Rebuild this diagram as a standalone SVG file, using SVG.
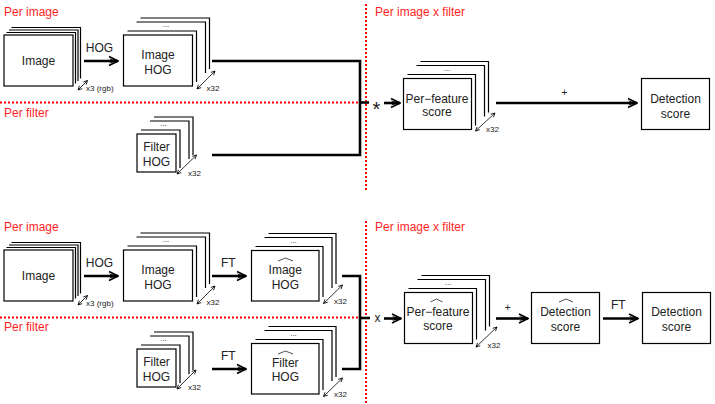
<svg xmlns="http://www.w3.org/2000/svg" width="715" height="404" viewBox="0 0 715 404">
  <defs>
    <style>
      .box { fill: #fff; stroke: #000; stroke-width: 1.2; }
      .layer { fill: none; stroke: #000; stroke-width: 1.2; }
      .lbl { font-family: "Liberation Sans", Arial, sans-serif; font-size: 12px; fill: #222; text-anchor: middle; }
      .small { font-family: "Liberation Sans", Arial, sans-serif; font-size: 8px; fill: #222; }
      .dots { font-family: "Liberation Sans", Arial, sans-serif; font-size: 8px; fill: #222; text-anchor: middle; }
      .region { font-family: "Liberation Sans", Arial, sans-serif; font-size: 12px; fill: #ff1f1f; }
      .sep { stroke: #f00; stroke-width: 2; stroke-dasharray: 2 2; fill: none; }
      .thick { stroke: #000; stroke-width: 2.6; fill: none; }
      .flow { stroke: #000; stroke-width: 2.6; fill: none; marker-end: url(#head); }
      .count { stroke: #000; stroke-width: 0.8; fill: none; marker-start: url(#tip); marker-end: url(#tip); }
      .hat { stroke: #222; stroke-width: 0.8; fill: none; }
    </style>
    <!-- heavy chevron head for the processing arrows -->
    <marker id="head" markerUnits="userSpaceOnUse" viewBox="-11 -6 12 12" refX="0" refY="0" markerWidth="12" markerHeight="12" orient="auto">
      <path d="M-9,-4.5 L0,0 L-9,4.5" fill="none" stroke="#000" stroke-width="1.6"/>
      <path d="M0,0 L-9,-2.6 L-6,0 L-9,2.6 Z" fill="#000"/>
    </marker>
    <!-- small open head for the multiplicity arrows -->
    <marker id="tip" markerUnits="userSpaceOnUse" viewBox="-5 -3 6 6" refX="0" refY="0" markerWidth="6" markerHeight="6" orient="auto-start-reverse">
      <path d="M-4,-2 L0,0 L-4,2" fill="none" stroke="#000" stroke-width="0.8"/>
    </marker>
  </defs>

  <!-- region separators and headings -->
  <g id="regions">
    <line class="sep" x1="0" y1="102.5" x2="359" y2="102.5"/>
    <line class="sep" x1="366" y1="4" x2="366" y2="190"/>
    <line class="sep" x1="0" y1="317.5" x2="359" y2="317.5"/>
    <line class="sep" x1="366" y1="221" x2="366" y2="404"/>
    <text class="region" x="4" y="16">Per image</text>
    <text class="region" x="4" y="117">Per filter</text>
    <text class="region" x="375" y="16">Per image x filter</text>
    <text class="region" x="4" y="231">Per image</text>
    <text class="region" x="4" y="331">Per filter</text>
    <text class="region" x="375" y="231">Per image x filter</text>
  </g>

  <!-- ===== upper pipeline ===== -->
  <g id="image-top">
    <path class="layer" d="M11.5,27.5 H80.5 V78.5 M9,30 H78 V81 M6.5,32.5 H75.5 V83.5"/>
    <rect class="box" x="4" y="35" width="69" height="51"/>
    <text class="lbl" x="38.5" y="64.5">Image</text>
  </g>

  <g id="image-hog-top">
    <path class="layer" d="M140.5,18 H209.5 V69 M136.5,22 H205.5 V73 M127.5,31 H196.5 V82"/>
    <text class="dots" x="166" y="27">...</text>
    <rect class="box" x="123.5" y="35" width="69" height="51"/>
    <text class="lbl" x="158" y="58.6">Image</text>
    <text class="lbl" x="158" y="73.6">HOG</text>
  </g>

  <g id="filter-hog-top">
    <path class="layer" d="M154,117 H193 V155 M150,121 H189 V159 M141,130 H180 V168"/>
    <text class="dots" x="163.5" y="126">...</text>
    <rect class="box" x="137" y="134" width="39" height="38"/>
    <text class="lbl" x="156.5" y="151">Filter</text>
    <text class="lbl" x="156.5" y="166">HOG</text>
  </g>

  <g id="per-feature-top">
    <path class="layer" d="M420.5,61.5 H488.5 V112.5 M416.5,65.5 H484.5 V116.5 M407.5,74.5 H475.5 V125.5"/>
    <text class="dots" x="447" y="70.5">...</text>
    <rect class="box" x="403.5" y="78.5" width="68" height="51"/>
    <text class="lbl" x="437" y="102.6">Per−feature</text>
    <text class="lbl" x="437" y="116">score</text>
  </g>

  <g id="detection-top">
    <rect class="box" x="641.5" y="78.5" width="68" height="51"/>
    <text class="lbl" x="675.5" y="102.6">Detection</text>
    <text class="lbl" x="675.5" y="117.6">score</text>
  </g>

  <!-- ===== lower pipeline ===== -->
  <g id="image-bottom">
    <path class="layer" d="M11.5,242.5 H80.5 V293.5 M9,245 H78 V296 M6.5,247.5 H75.5 V298.5"/>
    <rect class="box" x="4" y="250" width="69" height="51"/>
    <text class="lbl" x="38.5" y="279.5">Image</text>
  </g>

  <g id="image-hog-bottom">
    <path class="layer" d="M140.5,233 H209.5 V284 M136.5,237 H205.5 V288 M127.5,246 H196.5 V297"/>
    <text class="dots" x="166" y="242">...</text>
    <rect class="box" x="123.5" y="250" width="69" height="51"/>
    <text class="lbl" x="158" y="274.3">Image</text>
    <text class="lbl" x="158" y="289.3">HOG</text>
  </g>

  <g id="image-hog-ft">
    <path class="layer" d="M268.5,233.5 H336 V284 M264.5,237.5 H332 V288 M255.5,246.5 H323 V297"/>
    <text class="dots" x="293.5" y="242.5">...</text>
    <rect class="box" x="251.5" y="250.5" width="67.5" height="50.5"/>
    <path class="hat" d="M278,261 L285.5,258 L293,261"/>
    <text class="lbl" x="285.3" y="274.3">Image</text>
    <text class="lbl" x="285.3" y="289.3">HOG</text>
  </g>

  <g id="filter-hog-bottom">
    <path class="layer" d="M154,332 H193 V370 M150,336 H189 V374 M141,345 H180 V383"/>
    <text class="dots" x="163.5" y="341">...</text>
    <rect class="box" x="137" y="349" width="39" height="38"/>
    <text class="lbl" x="156.5" y="366">Filter</text>
    <text class="lbl" x="156.5" y="381">HOG</text>
  </g>

  <g id="filter-hog-ft">
    <path class="layer" d="M268.5,326.5 H336 V377 M264.5,330.5 H332 V381 M255.5,339.5 H323 V390"/>
    <text class="dots" x="293.5" y="335.5">...</text>
    <rect class="box" x="251.5" y="343.5" width="67.5" height="50.5"/>
    <path class="hat" d="M278,354 L285.5,351 L293,354"/>
    <text class="lbl" x="285.3" y="367">Filter</text>
    <text class="lbl" x="285.3" y="381">HOG</text>
  </g>

  <g id="per-feature-ft">
    <path class="layer" d="M421.5,275.5 H489.5 V326.5 M417.5,279.5 H485.5 V330.5 M408.5,288.5 H476.5 V339.5"/>
    <text class="dots" x="448" y="284.5">...</text>
    <rect class="box" x="404.5" y="292.5" width="68" height="51"/>
    <path class="hat" d="M430.5,302 L436.5,299 L442.5,302"/>
    <text class="lbl" x="438" y="316">Per−feature</text>
    <text class="lbl" x="438" y="330.3">score</text>
  </g>

  <g id="detection-ft">
    <rect class="box" x="531.5" y="292.5" width="68" height="51"/>
    <path class="hat" d="M559,302 L566,299 L573,302"/>
    <text class="lbl" x="565.5" y="316">Detection</text>
    <text class="lbl" x="565.5" y="331">score</text>
  </g>

  <g id="detection-bottom">
    <rect class="box" x="642.5" y="292.5" width="68" height="51"/>
    <text class="lbl" x="676.5" y="316">Detection</text>
    <text class="lbl" x="676.5" y="331">score</text>
  </g>

  <!-- ===== connectors ===== -->
  <g id="connectors">
    <!-- upper -->
    <path class="flow" d="M84,61 H118"/>
    <text class="lbl" x="99.5" y="52">HOG</text>
    <path class="count" d="M78,90 L87.5,80.5"/>
    <text class="small" x="86" y="91">x3 (rgb)</text>
    <path class="count" d="M197,89 L215,71"/>
    <text class="small" x="206.5" y="90.5">x32</text>
    <path class="count" d="M177,174 L196.5,155"/>
    <text class="small" x="188" y="176">x32</text>
    <path class="thick" d="M212,61 H360 V155 H212"/>
    <path class="thick" d="M360,102.5 H369"/>
    <text class="lbl" x="376.5" y="116" style="font-size:20px">*</text>
    <path class="flow" d="M384,103 H400"/>
    <path class="count" d="M475.5,131 L495,113"/>
    <text class="small" x="486" y="132">x32</text>
    <path class="flow" d="M496,103 H637"/>
    <text class="lbl" x="564.5" y="96" style="font-size:10px">+</text>

    <!-- lower -->
    <path class="flow" d="M84,276 H118"/>
    <text class="lbl" x="99.5" y="267">HOG</text>
    <path class="count" d="M78,305 L87.5,295.5"/>
    <text class="small" x="86" y="306">x3 (rgb)</text>
    <path class="count" d="M197,304 L215,286"/>
    <text class="small" x="206.5" y="304.5">x32</text>
    <path class="flow" d="M212,276 H246"/>
    <text class="lbl" x="228.3" y="267">FT</text>
    <path class="count" d="M323.5,303.5 L342.5,285"/>
    <text class="small" x="334" y="304">x32</text>
    <path class="count" d="M177,389 L196,370"/>
    <text class="small" x="188" y="390">x32</text>
    <path class="flow" d="M212,369 H246"/>
    <text class="lbl" x="228.3" y="360.3">FT</text>
    <path class="count" d="M323.5,396.5 L342.5,378"/>
    <text class="small" x="334" y="397">x32</text>
    <path class="thick" d="M342,276 H360 V369 H342"/>
    <path class="thick" d="M360,318 H370"/>
    <text class="lbl" x="377.5" y="321.5">x</text>
    <path class="flow" d="M384,318.5 H401"/>
    <path class="count" d="M476,347 L497,327"/>
    <text class="small" x="487.5" y="347.5">x32</text>
    <path class="flow" d="M496,318.5 H528"/>
    <text class="lbl" x="507.7" y="310.5" style="font-size:10px">+</text>
    <path class="flow" d="M603,318.5 H638"/>
    <text class="lbl" x="618.3" y="309.3">FT</text>
  </g>
</svg>
